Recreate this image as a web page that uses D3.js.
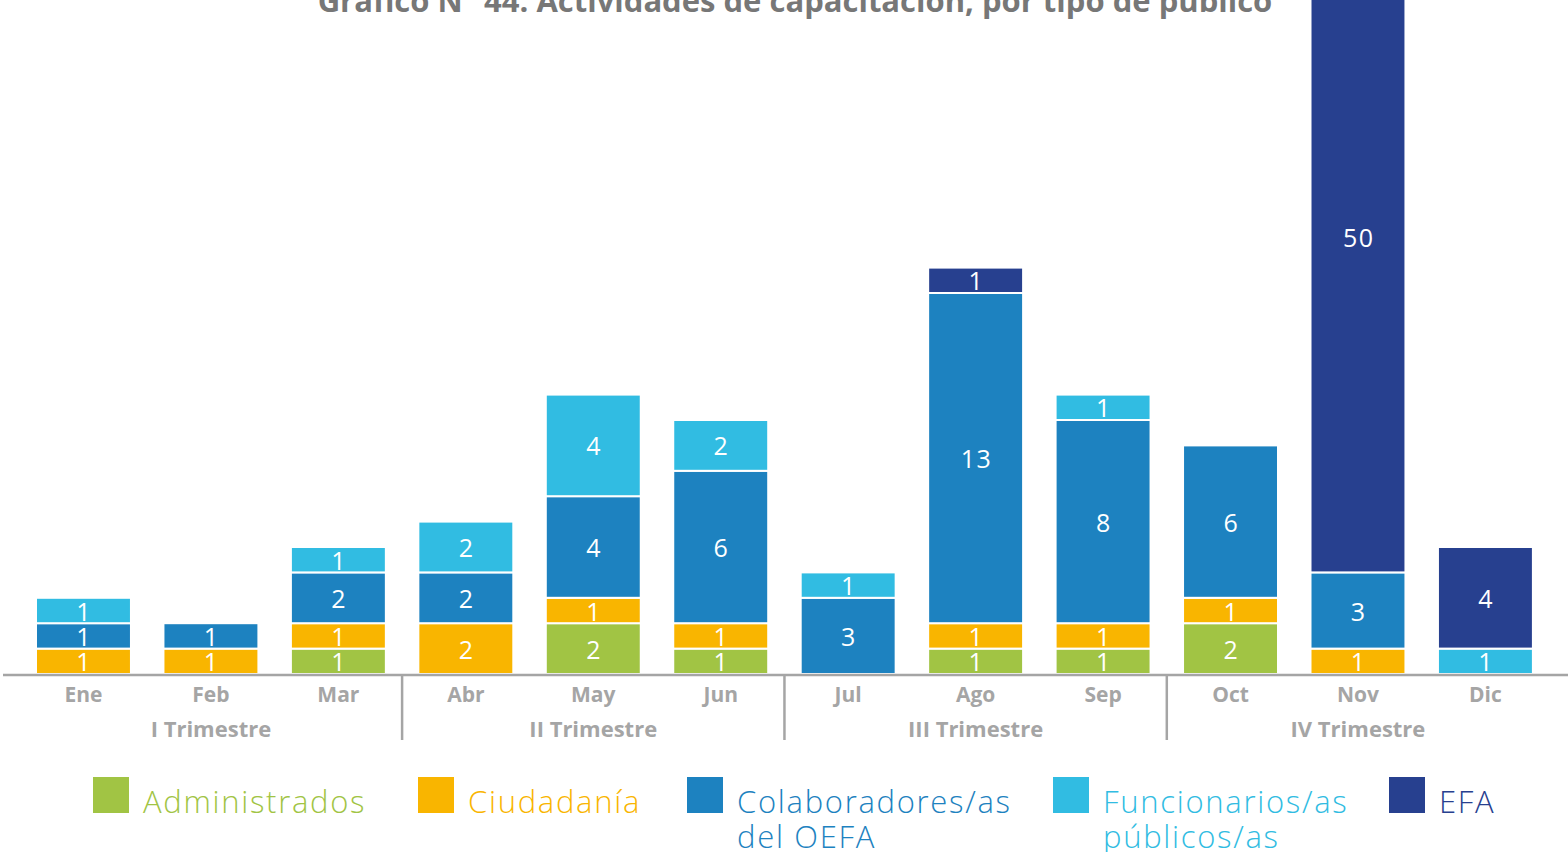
<!DOCTYPE html>
<html>
<head>
<meta charset="utf-8">
<script src="https://cdn.jsdelivr.net/npm/d3@7"></script>
<style>
  html, body { margin: 0; padding: 0; background: #fff; }
  svg { display: block; font-family: "Open Sans", Lato, sans-serif; }
</style>
</head>
<body>
<svg id="chart" width="1568" height="852"></svg>
<script>
// Months and quarters
const months = ["Ene","Feb","Mar","Abr","May","Jun","Jul","Ago","Sep","Oct","Nov","Dic"];
const quarters = ["I Trimestre","II Trimestre","III Trimestre","IV Trimestre"];

// Series (stacked bottom to top)
const seriesNames = ["Administrados","Ciudadanía","Colaboradores/as del OEFA","Funcionarios/as públicos/as","EFA"];
const administrados = [0,0,1,0,2,1,0,1,1,2,0,0];
const ciudadania    = [1,1,1,2,1,1,0,1,1,1,1,0];
const colaboradores = [1,1,2,2,4,6,3,13,8,6,3,0];
const funcionarios  = [1,0,1,2,4,2,1,0,1,0,0,1];
const efa           = [0,0,0,0,0,0,0,1,0,0,50,4];

const colors = ["#A1C444","#F9B500","#1D82C0","#31BCE2","#27408F"];
const legendLines = [["Administrados"],["Ciudadanía"],["Colaboradores/as","del OEFA"],["Funcionarios/as","públicos/as"],["EFA"]];

const svg = d3.select("#chart");
const baseY = 674;
const axisGray = "#A5A5A5";

const rows = months.map((m, i) => ({
  month: m,
  s0: administrados[i], s1: ciudadania[i], s2: colaboradores[i], s3: funcionarios[i], s4: efa[i]
}));
const keys = ["s0","s1","s2","s3","s4"];
const stacked = d3.stack().keys(keys)(rows);

const x = d3.scaleBand().domain(months).range([3.5, 1565.4]).paddingInner(0.255).paddingOuter(0.255);
// Tall values run past the top edge of the plot
const y = d3.scaleLinear().domain([0, 30.4]).range([baseY, baseY - 30.4 * 25.4]).clamp(true);

// Title
svg.append("text")
  .attr("x", 795).attr("y", 12)
  .attr("text-anchor", "middle")
  .attr("fill", "#777")
  .attr("font-weight", 700)
  .attr("font-size", 31)
  .text("Gráfico N° 44: Actividades de capacitación, por tipo de público");

// Bars
const layers = svg.append("g").selectAll("g").data(stacked).join("g")
  .attr("fill", (d, i) => colors[i]);

layers.selectAll("rect")
  .data(d => d.filter(p => p[1] - p[0] > 0))
  .join("rect")
  .attr("x", d => x(d.data.month))
  .attr("width", x.bandwidth())
  .attr("y", d => y(d[1]))
  .attr("height", d => y(d[0]) - y(d[1]))
  .attr("stroke", "#fff")
  .attr("stroke-width", 2);

// Value labels
const labelG = svg.append("g");
stacked.forEach((layer) => {
  layer.forEach(p => {
    const v = p[1] - p[0];
    if (v <= 0) return;
    const label = String(v);
    labelG.append("text")
      .attr("x", x(p.data.month) + x.bandwidth() / 2 + (label.length > 1 ? 0.8 : 0))
      .attr("y", (y(p[0]) + y(p[1])) / 2)
      .attr("text-anchor", "middle")
      .attr("dominant-baseline", "central")
      .attr("fill", "#fff")
      .attr("font-size", 25)
      .attr("letter-spacing", label.length > 1 ? 1.5 : 0)
      .text(label);
  });
});

// Baseline
svg.append("line")
  .attr("x1", 3).attr("x2", 1568)
  .attr("y1", baseY + 1).attr("y2", baseY + 1)
  .attr("stroke", axisGray).attr("stroke-width", 2.5);

// Month labels
const xAxis = d3.axisBottom(x).tickSize(0).tickPadding(0);
const axisG = svg.append("g").attr("transform", `translate(0,${baseY + 28})`).call(xAxis);
axisG.select(".domain").remove();
axisG.selectAll("text")
  .attr("dy", 0)
  .attr("fill", axisGray)
  .attr("font-size", 21)
  .attr("font-weight", 700)
  .attr("font-family", "'Open Sans', sans-serif");

// Quarter separators and labels
const step = x.step();
for (let q = 0; q < 4; q++) {
  const mid = x(months[q * 3 + 1]) + x.bandwidth() / 2;
  svg.append("text")
    .attr("x", mid).attr("y", 737)
    .attr("text-anchor", "middle")
    .attr("fill", axisGray)
    .attr("font-size", 22)
    .attr("font-weight", 700)
    .text(quarters[q]);
  if (q > 0) {
    const sx = x(months[q * 3]) - (step - x.bandwidth()) / 2;
    svg.append("line")
      .attr("x1", sx).attr("x2", sx)
      .attr("y1", baseY + 1).attr("y2", 740)
      .attr("stroke", axisGray).attr("stroke-width", 2.5);
  }
}

// Legend
const legendX = [93, 418, 687, 1053, 1389];
const legendG = svg.append("g");
seriesNames.forEach((name, i) => {
  legendG.append("rect")
    .attr("x", legendX[i]).attr("y", 777)
    .attr("width", 36).attr("height", 36)
    .attr("fill", colors[i]);
  const t = legendG.append("text")
    .attr("y", 813)
    .attr("fill", colors[i])
    .attr("font-size", 31)
    .attr("font-weight", 300)
    .attr("letter-spacing", 1.7);
  legendLines[i].forEach((line, li) => {
    t.append("tspan")
      .attr("x", legendX[i] + 50)
      .attr("dy", li === 0 ? 0 : 35)
      .text(line);
  });
});
</script>
</body>
</html>
